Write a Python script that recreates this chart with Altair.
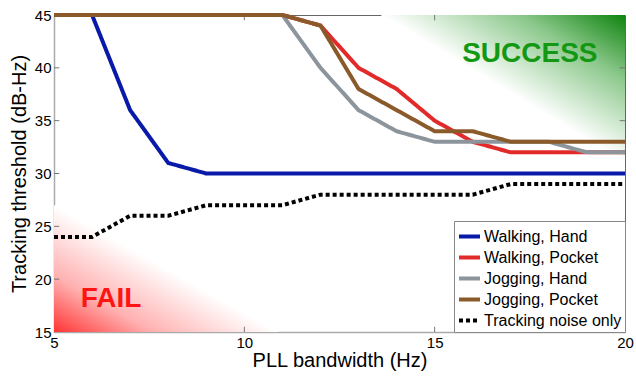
import altair as alt
import pandas as pd

bandwidth = list(range(5, 21))
walking_hand = [45, 45, 36, 31, 30, 30, 30, 30, 30, 30, 30, 30, 30, 30, 30, 30]
walking_pocket = [45, 45, 45, 45, 45, 45, 45, 44, 40, 38, 35, 33, 32, 32, 32, 32]
jogging_hand = [45, 45, 45, 45, 45, 45, 45, 40, 36, 34, 33, 33, 33, 33, 32, 32]
jogging_pocket = [45, 45, 45, 45, 45, 45, 45, 44, 38, 36, 34, 34, 33, 33, 33, 33]
noise_only = [24, 24, 26, 26, 27, 27, 27, 28, 28, 28, 28, 28, 29, 29, 29, 29]

series_names = ["Walking, Hand", "Walking, Pocket", "Jogging, Hand",
                "Jogging, Pocket", "Tracking noise only"]
series_values = [walking_hand, walking_pocket, jogging_hand, jogging_pocket, noise_only]
series_colors = ["#0a1aa8", "#e32a2a", "#8d959c", "#8b5a2b", "#000000"]
series_dash = [[1, 0], [1, 0], [1, 0], [1, 0], [4, 3]]

x_ticks = [5, 10, 15, 20]
y_ticks = [15, 20, 25, 30, 35, 40, 45]

rows = []
for name, vals in zip(series_names, series_values):
    for b, v in zip(bandwidth, vals):
        rows.append({"series": name, "bw": b, "thr": v})
df = pd.DataFrame(rows)

font = "Liberation Sans"
xs = alt.Scale(domain=[5, 20], nice=False)
ys = alt.Scale(domain=[15, 45], nice=False)

xaxis = alt.Axis(values=x_ticks, title="PLL bandwidth (Hz)", labelPadding=3,
                 titlePadding=0, labelFlush=False)
yaxis = alt.Axis(values=y_ticks, title="Tracking threshold (dB-Hz)", labelPadding=3,
                 titlePadding=5, labelFlush=False)

green_grad = alt.LinearGradient(
    gradient="linear",
    stops=[alt.GradientStop(color="#0e840e", offset=0),
           alt.GradientStop(color="#8cc88c", offset=0.22),
           alt.GradientStop(color="#ffffff", offset=0.5)],
    x1=1, y1=0, x2=0, y2=1)
red_grad = alt.LinearGradient(
    gradient="linear",
    stops=[alt.GradientStop(color="#ff3434", offset=0),
           alt.GradientStop(color="#ffb0b0", offset=0.22),
           alt.GradientStop(color="#ffffff", offset=0.5)],
    x1=0, y1=1, x2=1, y2=0)

base = alt.Chart(pd.DataFrame({"a": [0]}))

green_rect = base.mark_rect(color=green_grad).encode(
    x=alt.X(datum=13.6, scale=xs, axis=xaxis), x2=alt.datum(20),
    y=alt.Y(datum=31, scale=ys, axis=yaxis), y2=alt.datum(45))
red_rect = base.mark_rect(color=red_grad).encode(
    x=alt.X(datum=5, scale=xs), x2=alt.datum(10.9),
    y=alt.Y(datum=15, scale=ys), y2=alt.datum(27))

success = base.mark_text(text="SUCCESS", font=font, fontSize=28, fontWeight="bold",
                         color="#139813").encode(
    x=alt.X(datum=17.5, scale=xs), y=alt.Y(datum=41.3, scale=ys))
fail = base.mark_text(text="FAIL", font=font, fontSize=28, fontWeight="bold",
                      color="#ff1414").encode(
    x=alt.X(datum=6.5, scale=xs), y=alt.Y(datum=18.1, scale=ys))

tick_df_x = pd.DataFrame({"t": x_ticks[1:-1]})
tick_df_y = pd.DataFrame({"t": y_ticks[1:-1]})
tick_color = "#777777"
ticks = alt.layer(
    alt.Chart(tick_df_x).mark_rule(color=tick_color).encode(
        x=alt.X("t:Q", scale=xs), y=alt.datum(15), y2=alt.datum(15.5)),
    alt.Chart(tick_df_x).mark_rule(color=tick_color).encode(
        x=alt.X("t:Q", scale=xs), y=alt.datum(44.5), y2=alt.datum(45)),
    alt.Chart(tick_df_y).mark_rule(color=tick_color).encode(
        y=alt.Y("t:Q", scale=ys), x=alt.datum(5), x2=alt.datum(5.14)),
    alt.Chart(tick_df_y).mark_rule(color=tick_color).encode(
        y=alt.Y("t:Q", scale=ys), x=alt.datum(19.86), x2=alt.datum(20)),
)

color_enc = alt.Color("series:N", scale=alt.Scale(domain=series_names, range=series_colors),
                      legend=alt.Legend(title=None))
dash_enc = alt.StrokeDash("series:N", scale=alt.Scale(domain=series_names, range=series_dash),
                          legend=alt.Legend(title=None))

line_layers = []
for name in series_names:
    line_layers.append(
        alt.Chart(df).transform_filter(alt.datum.series == name).mark_line(
            strokeWidth=4, strokeCap="butt", clip=False).encode(
            x=alt.X("bw:Q", scale=xs),
            y=alt.Y("thr:Q", scale=ys),
            color=color_enc,
            strokeDash=dash_enc,
        )
    )

chart = alt.layer(green_rect, red_rect, success, fail, ticks, *line_layers).properties(
    width=571, height=317,
    autosize=alt.AutoSizeParams(type="none"),
    padding={"left": 54, "top": 15, "right": 11, "bottom": 44},
).configure_view(stroke="#666666", strokeWidth=1).configure_axis(
    labelFont=font, labelFontSize=15, labelColor="#000000",
    titleFont=font, titleFontSize=20, titleFontWeight="normal", titleColor="#000000",
    grid=False, ticks=False, domainColor="#aaaaaa", domainWidth=1.5,
).configure_legend(
    orient="bottom-right", offset=0, padding=3,
    strokeColor="#888888", fillColor="#ffffff",
    labelFont=font, labelFontSize=16, labelColor="#000000", labelLimit=300,
    symbolType="stroke", symbolSize=441, symbolStrokeWidth=4, labelOffset=2,
    rowPadding=-1,
)

chart.save("out.html", embed_options={"renderer": "svg", "actions": False})
